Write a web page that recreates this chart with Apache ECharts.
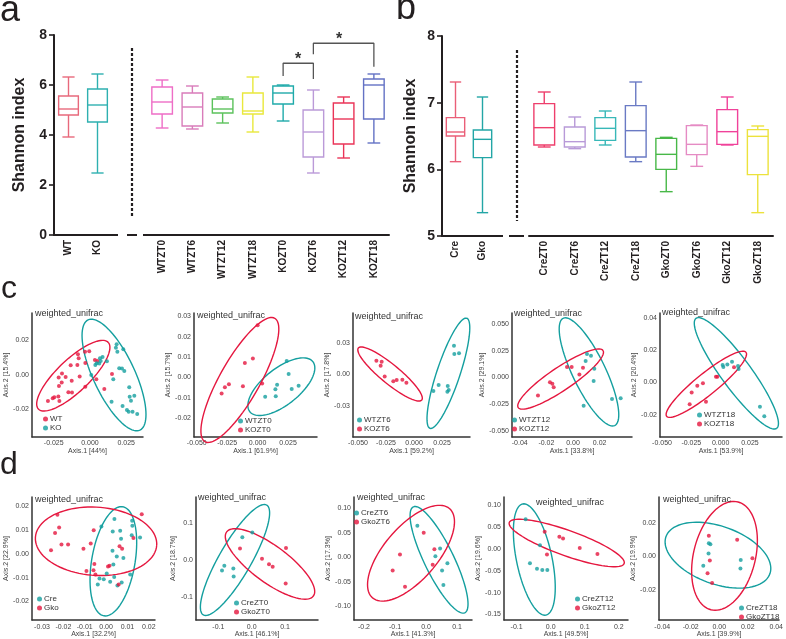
<!DOCTYPE html>
<html><head><meta charset="utf-8">
<script src="https://cdn.jsdelivr.net/npm/echarts@6/dist/echarts.min.js"></script>
<style>html,body{margin:0;padding:0;background:#fff}#c{width:786px;height:639px}</style>
</head><body><div id="c"></div>
<script>
// ---------------- DATA ----------------
// Panel a: Shannon index boxes [min, Q1, median, Q3, max]
const aCatsL = ['WT','KO'];
const aBoxL = [[3.92,4.80,5.04,5.56,6.32],[2.48,4.52,5.20,5.84,6.44]];
const aColL = ['#e8697c','#2eb0b0'];
const aCatsR = ['WTZT0','WTZT6','WTZT12','WTZT18','KOZT0','KOZT6','KOZT12','KOZT18'];
const aBoxR = [[4.28,4.84,5.32,5.92,6.20],[4.24,4.36,5.12,5.68,5.96],[4.48,4.88,5.04,5.44,5.52],[4.12,4.84,4.96,5.68,6.32],
               [4.56,5.24,5.68,5.96,6.00],[2.48,3.12,4.12,5.00,5.80],[3.08,3.64,4.64,5.28,5.52],[3.68,4.64,6.00,6.24,6.44]];
const aColR = ['#ee6ec6','#d97cba','#5cc25c','#e9e83c','#1faaaa','#bb9ad8','#ea3458','#6472c4'];
const aTicks = [0,2,4,6,8];
const aBracket1 = [[4,6.36],[4,6.87],[5,6.87],[5,6.24]];
const aBracket2 = [[5,7.23],[5,7.67],[7,7.67],[7,6.73]];
// Panel b
const bCatsL = ['Cre','Gko'];
const bBoxL = [[6.115,6.50,6.56,6.775,7.31],[5.35,6.175,6.45,6.59,7.085]];
const bColL = ['#ea5f78','#23a6a6'];
const bCatsR = ['CreZT0','CreZT6','CreZT12','CreZT18','GkoZT0','GkoZT6','GkoZT12','GkoZT18'];
const bBoxR = [[6.335,6.365,6.625,6.985,7.16],[6.31,6.335,6.415,6.635,6.785],[6.365,6.435,6.615,6.775,6.875],[6.115,6.185,6.58,6.955,7.31],
               [5.665,6.0,6.225,6.465,6.48],[6.045,6.22,6.375,6.655,6.665],[6.365,6.375,6.565,6.895,7.085],[5.35,5.92,6.495,6.595,6.65]];
const bColR = ['#ee3f6c','#b89ad8','#38b8b8','#6a7ac4','#48b848','#e58bc4','#f0429a','#ece23c'];
const bTicks = [5,6,7,8];

// Panel c / d : PCoA points [Axis.1, Axis.2]; ellipses [cx, cy, ux, uy, vx, vy]
const c1WT = [[-0.0034,0.0135],[-0.0005,0.0137],[-0.0083,0.0120],[-0.0078,0.0097],[-0.0133,0.0056],[-0.0087,0.0058],[-0.0032,0.0070],[0.0034,0.0087],[0.0051,0.0081],[-0.0193,0.0008],[-0.0168,-0.0012],[-0.0216,-0.0015],[-0.0071,-0.0008],[-0.0126,-0.0033],[-0.0195,-0.0043],[-0.0214,-0.0064],[-0.0032,-0.0068],[-0.0149,-0.0100],[-0.0124,-0.0102],[0.0044,-0.0025],[0.0099,-0.0081],[0.0152,0.0006],[-0.0218,-0.0124],[-0.0246,-0.0129],[-0.0257,-0.0135],[-0.0290,-0.0151],[-0.0211,-0.0151]];
const c1KO = [[0.0184,0.0178],[0.0179,0.0158],[0.0230,0.0149],[0.0189,0.0135],[0.0087,0.0104],[0.0069,0.0097],[0.0117,0.0079],[0.0046,0.0068],[0.0064,0.0066],[0.0074,0.0081],[0.0037,0.0058],[0.0009,0.0000],[0.0202,0.0039],[0.0221,0.0037],[0.0237,0.0023],[0.0161,-0.0025],[0.0271,-0.0071],[0.0306,-0.0120],[0.0274,-0.0126],[0.0283,-0.0149],[0.0225,-0.0180],[0.0255,-0.0203],[0.0267,-0.0213],[0.0294,-0.0213],[0.0326,-0.0226],[0.0149,-0.0155]];
const c1EllWT = [-0.0115,-0.0004,0.0241,0.0193,0.0076,-0.0068];
const c1EllKO = [0.0166,0.0000,0.0179,-0.0319,0.0129,0.0052];

const c2WTZT0 = [[0.0239,0.0080],[0.0255,0.0016],[0.0160,-0.0036],[0.0146,-0.0059],[0.0280,-0.0057],[0.0337,-0.0041],[0.0062,-0.0095],[0.0149,-0.0093]];
const c2KOZT0 = [[0.0000,0.0256],[-0.0039,0.0093],[-0.0105,0.0070],[0.0037,-0.0030],[-0.0121,-0.0044],[-0.0236,-0.0034],[-0.0269,-0.0049],[-0.0296,-0.0079]];
const c2EllWT = [0.0195,-0.0046,0.0259,0.0123,0.0093,-0.0070];
const c2EllKO = [-0.0146,-0.0013,0.0287,0.0303,0.0142,-0.0049];

const c3WTZT6 = [[0.0357,0.0274],[0.0360,0.0195],[0.0402,0.0201],[0.0220,-0.0102],[0.0173,-0.0160],[0.0301,-0.0112],[0.0310,-0.0150],[0.0298,-0.0166]];
const c3KOZT6 = [[-0.0336,0.0131],[-0.0289,0.0121],[-0.0298,0.0083],[-0.0262,-0.0022],[-0.0185,-0.0067],[-0.0155,-0.0054],[-0.0104,-0.0051],[-0.0068,-0.0080]];
const c3EllWT = [0.0307,0.0010,0.0164,0.0527,0.0098,-0.0035];
const c3EllKO = [-0.0214,0.0003,0.0283,-0.0249,-0.0054,-0.0070];

const c4WTZT12 = [[0.0105,0.0220],[0.0135,0.0204],[0.0095,0.0155],[0.0160,0.0082],[0.0155,-0.0034],[0.0080,-0.0265],[0.0293,-0.0201],[0.0358,-0.0195]];
const c4KOZT12 = [[-0.0263,-0.0168],[-0.0173,-0.0046],[-0.0155,-0.0058],[-0.0145,-0.0091],[-0.0045,0.0098],[-0.0010,0.0098],[0.0075,0.0091],[0.0048,0.0027]];
const c4EllWT = [0.0120,0.0052,-0.0193,0.0503,0.0113,0.0064];
const c4EllKO = [-0.0093,-0.0015,0.0318,0.0268,0.0050,-0.0088];

const c5WTZT18 = [[0.0017,0.0107],[0.0023,0.0095],[0.0057,0.0111],[0.0097,0.0128],[0.0148,0.0101],[0.0153,0.0082],[0.0335,-0.0151],[0.0372,-0.0210]];
const c5KOZT18 = [[-0.0264,-0.0136],[-0.0247,-0.0062],[-0.0199,-0.0021],[-0.0151,-0.0006],[-0.0040,0.0035],[-0.0028,0.0035],[0.0114,0.0093],[-0.0125,-0.0120]];
const c5EllWT = [0.0134,0.0056,0.0344,-0.0340,0.0102,0.0056];
const c5EllKO = [-0.0122,-0.0012,0.0338,0.0198,0.0057,-0.0052];

const d1Cre = [[-0.0022,0.0115],[0.0039,0.0147],[0.0031,0.0094],[0.0066,0.0097],[0.0122,0.0139],[0.0123,0.0118],[0.0120,0.0078],[0.0159,0.0069],[0.0070,0.0064],[0.0030,0.0013],[0.0050,-0.0011],[0.0081,-0.0017],[0.0034,-0.0044],[0.0038,-0.0097],[-0.0011,-0.0106],[-0.0031,-0.0103],[-0.0039,-0.0129],[0.0019,-0.0117],[0.0053,-0.0133],[0.0073,-0.0120],[0.0113,-0.0086],[0.0003,-0.0082]];
const d1Gko = [[-0.0228,0.0164],[-0.0220,0.0111],[-0.0239,0.0088],[-0.0258,0.0015],[-0.0209,0.0039],[-0.0178,0.0039],[-0.0106,0.0022],[-0.0072,0.0044],[-0.0058,0.0099],[0.0063,0.0032],[0.0075,0.0022],[0.0016,-0.0050],[0.0009,-0.0053],[-0.0059,-0.0069],[-0.0092,-0.0072],[-0.0050,-0.0086],[0.0128,0.0067],[0.0167,0.0167],[-0.0055,-0.0042],[0.0059,-0.0128]];
const d1EllCre = [0.0034,-0.0031,0.0044,0.0229,0.0100,-0.0015];
const d1EllGko = [-0.0047,0.0053,0.0284,-0.0017,-0.0011,-0.0143];

const d2CreZT0 = [[0.002,0.0732],[-0.028,0.0607],[-0.082,-0.0161],[-0.089,-0.0295],[-0.055,-0.0241],[-0.054,-0.0455]];
const d2GkoZT0 = [[-0.035,0.0304],[0.031,0.0027],[0.052,-0.0125],[0.063,-0.0188],[0.103,0.0313],[0.102,-0.0643]];
const d2EllCre = [-0.050,-0.0009,0.095,0.1482,0.042,-0.0214];
const d2EllGko = [0.055,-0.0116,0.130,-0.0866,0.033,0.0393];

const d3CreZT6 = [[-0.028,0.0649],[0.0452,0.0182],[0.0301,0.0027],[0.0688,-0.0115],[0.0516,-0.0264],[0.0559,-0.0561]];
const d3GkoZT6 = [[-0.0075,0.0507],[0.0269,0.0169],[-0.0839,0.0061],[0.0215,-0.0149],[-0.1075,-0.0264],[-0.0677,-0.0595]];
const d3EllCre = [0.0419,-0.0047,-0.0828,0.1081,0.043,0.0128];
const d3EllGko = [-0.0484,0.0088,0.1237,0.0912,0.0656,-0.0351];

const d4CreZT12 = [[-0.0735,0.0682],[-0.0314,0.0083],[-0.0608,-0.0326],[-0.0402,-0.0455],[-0.0245,-0.0485],[-0.0098,-0.0485]];
const d4GkoZT12 = [[-0.0176,0.0394],[-0.0108,-0.0129],[0.0255,0.028],[0.0363,0.0242],[0.0853,0.0023],[0.1373,-0.0114]];
const d4EllCre = [-0.048,-0.0242,-0.0343,0.1273,0.051,0.0083];
const d4EllGko = [0.0471,0.0136,0.1686,-0.047,0.0127,0.0273];

const d5CreZT18 = [[-0.0073,0.0079],[-0.0062,0.0073],[-0.0075,0.0018],[-0.0112,-0.0055],[0.0151,-0.0020],[0.0149,-0.0071]];
const d5GkoZT18 = [[-0.0073,0.0124],[0.0126,0.0100],[-0.0066,-0.0024],[0.0233,-0.0010],[-0.0082,-0.0099],[-0.0050,-0.0158]];
const d5EllCre = [-0.0009,0.0008,0.0366,-0.0108,0.0062,0.0164];
const d5EllGko = [0.0037,0.0004,0.0096,0.0321,0.0210,-0.0047];

// tick labels for PCoA panels
const c1XT=[-0.025,0,0.025], c1YT=[-0.02,0,0.02];
const c2XT=[-0.05,-0.025,0,0.025], c2YT=[-0.02,-0.01,0,0.01,0.02,0.03];
const c3XT=[-0.05,-0.025,0,0.025], c3YT=[-0.03,0,0.03];
const c4XT=[-0.04,-0.02,0,0.02], c4YT=[-0.05,-0.025,0,0.025,0.05];
const c5XT=[-0.05,-0.025,0,0.025], c5YT=[-0.02,0,0.02,0.04];
const d1XT=[-0.03,-0.02,-0.01,0,0.01,0.02], d1YT=[-0.02,-0.01,0,0.01,0.02];
const d2XT=[-0.1,0,0.1], d2YT=[-0.1,0,0.1];
const d3XT=[-0.2,-0.1,0,0.1], d3YT=[-0.1,-0.05,0,0.05,0.1];
const d4XT=[-0.1,0,0.1,0.2], d4YT=[-0.15,-0.1,-0.05,0,0.05,0.1];
const d5XT=[-0.04,-0.02,0,0.02,0.04], d5YT=[-0.02,0,0.02];

// ---------------- BUILD ----------------
const FONT = '"Liberation Sans", Arial, Helvetica, sans-serif';
const RED = '#e5173f', TEAL = '#149f9f', INK = '#231f20';
const grids=[], xAxes=[], yAxes=[], series=[], legends=[], titles=[];

function boxRender(colors, wf, cf){
  return function(p, api){
    const k = api.value(0);
    const band = api.size([1,0])[0];
    const w = band*wf, cw = band*cf;
    const pMin = api.coord([k, api.value(1)]), pQ1 = api.coord([k, api.value(2)]), pMed = api.coord([k, api.value(3)]),
          pQ3 = api.coord([k, api.value(4)]), pMax = api.coord([k, api.value(5)]);
    const x = pMed[0], c = colors[k];
    const st = {stroke:c, lineWidth:1.4, fill:null};
    return {type:'group', children:[
      {type:'line', shape:{x1:x,y1:pMax[1],x2:x,y2:pQ3[1]}, style:st},
      {type:'line', shape:{x1:x,y1:pQ1[1],x2:x,y2:pMin[1]}, style:st},
      {type:'line', shape:{x1:x-cw/2,y1:pMax[1],x2:x+cw/2,y2:pMax[1]}, style:st},
      {type:'line', shape:{x1:x-cw/2,y1:pMin[1],x2:x+cw/2,y2:pMin[1]}, style:st},
      {type:'rect', shape:{x:x-w/2,y:pQ3[1],width:w,height:pQ1[1]-pQ3[1]}, style:{stroke:c,lineWidth:1.4,fill:'#fff'}},
      {type:'line', shape:{x1:x-w/2,y1:pMed[1],x2:x+w/2,y2:pMed[1]}, style:st}
    ]};
  };
}

function addBox(g, cats, boxes, colors, ymin, ymax, ticks, showY, nameGap){
  const i = grids.length;
  grids.push(g);
  xAxes.push({type:'category', gridIndex:i, data:cats,
    axisLine:{lineStyle:{color:INK,width:2}},
    axisTick:{alignWithLabel:true,length:5,lineStyle:{color:INK,width:1.6}},
    axisLabel:{rotate:90,fontSize:10,fontWeight:'bold',color:INK,margin:5,fontFamily:FONT}});
  if (showY) {
    yAxes.push({type:'value', gridIndex:i, min:ymin, max:ymax, interval:1,
      axisLine:{show:true,lineStyle:{color:INK,width:2}},
      axisTick:{show:true,length:5,lineStyle:{color:INK,width:1.6},customValues:ticks},
      axisLabel:{customValues:ticks,fontSize:14,fontWeight:'bold',color:INK,margin:7,fontFamily:FONT},
      splitLine:{show:false},
      name:'Shannon index', nameLocation:'middle', nameGap:nameGap,
      nameTextStyle:{fontSize:16,fontWeight:'bold',color:INK,fontFamily:FONT}});
  } else {
    yAxes.push({type:'value', gridIndex:i, min:ymin, max:ymax, show:false, splitLine:{show:false}});
  }
  series.push({type:'custom', xAxisIndex:i, yAxisIndex:i, silent:true,
    encode:{x:0,y:[1,2,3,4,5]},
    data: boxes.map((b,k)=>[k].concat(b)),
    renderItem: boxRender(colors, 0.68, 0.42)});
  return i;
}

function ellRender(color){
  return function(p, api){
    const cx=api.value(0), cy=api.value(1), ux=api.value(2), uy=api.value(3), vx=api.value(4), vy=api.value(5);
    const pts=[];
    for (let s=0; s<=90; s++){
      const t = s/90*Math.PI*2;
      pts.push(api.coord([cx+ux*Math.cos(t)+vx*Math.sin(t), cy+uy*Math.cos(t)+vy*Math.sin(t)]));
    }
    return {type:'polyline', shape:{points:pts}, style:{fill:null, stroke:color, lineWidth:1.4}};
  };
}

function fmt(d){ return v => { const n = Number(v); return (Math.abs(n) < 1e-12 ? 0 : n).toFixed(d); }; }

function addPcoa(s){
  const i = grids.length;
  grids.push(s.grid);
  xAxes.push({type:'value', gridIndex:i, min:s.x[0], max:s.x[1], splitLine:{show:false},
    axisTick:{show:false}, axisLine:{onZero:false, lineStyle:{color:'#333',width:1.5}},
    axisLabel:{customValues:s.xt, formatter:fmt(s.xd), fontSize:7, color:'#444', margin:3, fontFamily:FONT},
    name:s.xn, nameLocation:'middle', nameGap:10, nameTextStyle:{fontSize:7,color:'#444',fontFamily:FONT}});
  yAxes.push({type:'value', gridIndex:i, min:s.y[0], max:s.y[1], splitLine:{show:false},
    axisTick:{show:false}, axisLine:{onZero:false, lineStyle:{color:'#333',width:1.5}},
    axisLabel:{customValues:s.yt, formatter:fmt(s.yd), fontSize:7, color:'#444', margin:3, fontFamily:FONT},
    name:s.yn, nameLocation:'middle', nameGap:s.yg, nameTextStyle:{fontSize:7,color:'#444',fontFamily:FONT}});
  s.sets.forEach(st=>{
    series.push({type:'custom', xAxisIndex:i, yAxisIndex:i, silent:true, data:[st.ell], renderItem:ellRender(st.color), clip:false, z:2});
  });
  s.sets.forEach(st=>{
    series.push({type:'scatter', name:st.name, xAxisIndex:i, yAxisIndex:i, data:st.pts, symbolSize:4,
      itemStyle:{color:st.color}, z:3});
  });
  legends.push({data:s.legend, left:s.lg[0], top:s.lg[1], orient:'vertical', icon:'circle', itemWidth:5, itemHeight:5,
    itemGap:1, padding:0, selectedMode:false, textStyle:{fontSize:8,color:'#333',fontFamily:FONT,padding:[0,0,0,-3]}});
  titles.push({text:'weighted_unifrac', left:s.tt[0], top:s.tt[1], padding:0,
    textStyle:{fontSize:9,fontWeight:'normal',color:'#333',fontFamily:FONT}});
}

// panel a
addBox({left:54, top:35, width:58, height:200}, aCatsL, aBoxL, aColL, 0, 8, aTicks, true, 26);
const aR = addBox({left:147, top:35, width:242, height:200}, aCatsR, aBoxR, aColR, 0, 8, aTicks, false, 0);
[aBracket1, aBracket2].forEach(b=>series.push({type:'line', xAxisIndex:aR, yAxisIndex:aR, data:b, symbol:'none', silent:true,
  lineStyle:{color:'#555',width:1.3}}));
// panel b
addBox({left:442, top:36, width:54, height:200}, bCatsL, bBoxL, bColL, 5, 8, bTicks, true, 23);
addBox({left:529, top:36, width:244, height:200}, bCatsR, bBoxR, bColR, 5, 8, bTicks, false, 0);

// panel c
const cTop = 313, cH = 124, dTop = 497, dH = 124;
addPcoa({grid:{left:32,top:cTop,width:111,height:cH}, x:[-0.040,0.0366], y:[-0.0359,0.0359], xt:c1XT, yt:c1YT, xd:3, yd:2,
  xn:'Axis.1 [44%]', yn:'Axis.2 [15.4%]', yg:16, legend:['WT','KO'], lg:[43,415], tt:[35,309],
  sets:[{name:'WT',pts:c1WT,ell:c1EllWT,color:RED},{name:'KO',pts:c1KO,ell:c1EllKO,color:TEAL}]});
addPcoa({grid:{left:194,top:cTop,width:123,height:cH}, x:[-0.0523,0.0488], y:[-0.0293,0.0316], xt:c2XT, yt:c2YT, xd:3, yd:2,
  xn:'Axis.1 [61.9%]', yn:'Axis.2 [15.7%]', yg:18, legend:['WTZT0','KOZT0'], lg:[238,417], tt:[197,311],
  sets:[{name:'WTZT0',pts:c2WTZT0,ell:c2EllWT,color:TEAL},{name:'KOZT0',pts:c2KOZT0,ell:c2EllKO,color:RED}]});
addPcoa({grid:{left:353,top:cTop,width:117,height:cH}, x:[-0.0545,0.050], y:[-0.060,0.0587], xt:c3XT, yt:c3YT, xd:3, yd:2,
  xn:'Axis.1 [59.2%]', yn:'Axis.2 [17.8%]', yg:17, legend:['WTZT6','KOZT6'], lg:[357,416], tt:[355,312],
  sets:[{name:'WTZT6',pts:c3WTZT6,ell:c3EllWT,color:TEAL},{name:'KOZT6',pts:c3KOZT6,ell:c3EllKO,color:RED}]});
addPcoa({grid:{left:512,top:cTop,width:120,height:cH}, x:[-0.0458,0.0443], y:[-0.0558,0.0604], xt:c4XT, yt:c4YT, xd:2, yd:3,
  xn:'Axis.1 [33.8%]', yn:'Axis.2 [29.1%]', yg:14, legend:['WTZT12','KOZT12'], lg:[512,416], tt:[514,309],
  sets:[{name:'WTZT12',pts:c4WTZT12,ell:c4EllWT,color:TEAL},{name:'KOZT12',pts:c4KOZT12,ell:c4EllKO,color:RED}]});
addPcoa({grid:{left:660,top:cTop,width:122,height:cH}, x:[-0.0517,0.0523], y:[-0.0338,0.0429], xt:c5XT, yt:c5YT, xd:3, yd:2,
  xn:'Axis.1 [53.9%]', yn:'Axis.2 [20.4%]', yg:18, legend:['WTZT18','KOZT18'], lg:[697,411], tt:[662,308],
  sets:[{name:'WTZT18',pts:c5WTZT18,ell:c5EllWT,color:TEAL},{name:'KOZT18',pts:c5KOZT18,ell:c5EllKO,color:RED}]});

// panel d
addPcoa({grid:{left:32,top:dTop,width:123,height:dH}, x:[-0.0347,0.0229], y:[-0.0278,0.0239], xt:d1XT, yt:d1YT, xd:2, yd:2,
  xn:'Axis.1 [32.2%]', yn:'Axis.2 [22.9%]', yg:20, legend:['Cre','Gko'], lg:[37,595], tt:[35,495],
  sets:[{name:'Cre',pts:d1Cre,ell:d1EllCre,color:TEAL},{name:'Gko',pts:d1Gko,ell:d1EllGko,color:RED}]});
addPcoa({grid:{left:196,top:dTop,width:122,height:dH}, x:[-0.167,0.199], y:[-0.163,0.169], xt:d2XT, yt:d2YT, xd:1, yd:1,
  xn:'Axis.1 [46.1%]', yn:'Axis.2 [18.7%]', yg:15, legend:['CreZT0','GkoZT0'], lg:[234,599], tt:[198,493],
  sets:[{name:'CreZT0',pts:d2CreZT0,ell:d2EllCre,color:TEAL},{name:'GkoZT0',pts:d2GkoZT0,ell:d2EllGko,color:RED}]});
addPcoa({grid:{left:354,top:dTop,width:118,height:dH}, x:[-0.232,0.148], y:[-0.1277,0.1235], xt:d3XT, yt:d3YT, xd:1, yd:2,
  xn:'Axis.1 [41.3%]', yn:'Axis.2 [17.3%]', yg:16, legend:['CreZT6','GkoZT6'], lg:[354,509], tt:[357,493],
  sets:[{name:'CreZT6',pts:d3CreZT6,ell:d3EllCre,color:TEAL},{name:'GkoZT6',pts:d3GkoZT6,ell:d3EllGko,color:RED}]});
addPcoa({grid:{left:504,top:dTop,width:124,height:dH}, x:[-0.137,0.227], y:[-0.163,0.119], xt:d4XT, yt:d4YT, xd:1, yd:2,
  xn:'Axis.1 [49.5%]', yn:'Axis.2 [19.6%]', yg:18, legend:['CreZT12','GkoZT12'], lg:[575,595], tt:[536,498],
  sets:[{name:'CreZT12',pts:d4CreZT12,ell:d4EllCre,color:TEAL},{name:'GkoZT12',pts:d4GkoZT12,ell:d4EllGko,color:RED}]});
addPcoa({grid:{left:659,top:dTop,width:123,height:dH}, x:[-0.0423,0.042], y:[-0.0379,0.0355], xt:d5XT, yt:d5YT, xd:2, yd:2,
  xn:'Axis.1 [39.9%]', yn:'Axis.2 [19.9%]', yg:15, legend:['CreZT18','GkoZT18'], lg:[739,604], tt:[663,495],
  sets:[{name:'CreZT18',pts:d5CreZT18,ell:d5EllCre,color:TEAL},{name:'GkoZT18',pts:d5GkoZT18,ell:d5EllGko,color:RED}]});

const graphics = [
  {type:'text', left:0, top:-7, style:{text:'a', font:'36px '+FONT, fill:INK}},
  {type:'text', left:396, top:-9, style:{text:'b', font:'36px '+FONT, fill:INK}},
  {type:'text', left:1, top:273, style:{text:'c', font:'32px '+FONT, fill:INK}},
  {type:'text', left:0, top:449, style:{text:'d', font:'32px '+FONT, fill:INK}},
  {type:'line', shape:{x1:132,y1:48,x2:132,y2:218}, style:{stroke:INK, lineWidth:2.2, lineDash:[3,2]}},
  {type:'line', shape:{x1:517,y1:50,x2:517,y2:221}, style:{stroke:INK, lineWidth:2.2, lineDash:[3,2]}},
  {type:'line', shape:{x1:112,y1:235,x2:118,y2:235}, style:{stroke:INK, lineWidth:2}},
  {type:'line', shape:{x1:127,y1:235,x2:137,y2:235}, style:{stroke:INK, lineWidth:2}},
  {type:'line', shape:{x1:143,y1:235,x2:147,y2:235}, style:{stroke:INK, lineWidth:2}},
  {type:'line', shape:{x1:496,y1:236,x2:503,y2:236}, style:{stroke:INK, lineWidth:2}},
  {type:'line', shape:{x1:509,y1:236,x2:524,y2:236}, style:{stroke:INK, lineWidth:2}},
  {type:'text', x:298, y:60, style:{text:'*', font:'bold 16px '+FONT, fill:'#333', textAlign:'center', textVerticalAlign:'middle'}},
  {type:'text', x:339, y:40, style:{text:'*', font:'bold 16px '+FONT, fill:'#333', textAlign:'center', textVerticalAlign:'middle'}}
];

const chart = echarts.init(document.getElementById('c'), null, {renderer:'canvas'});
chart.setOption({
  animation:false, backgroundColor:'#fff',
  textStyle:{fontFamily:FONT},
  grid:grids, xAxis:xAxes, yAxis:yAxes, series:series, legend:legends, title:titles, graphic:graphics
});
</script></body></html>
